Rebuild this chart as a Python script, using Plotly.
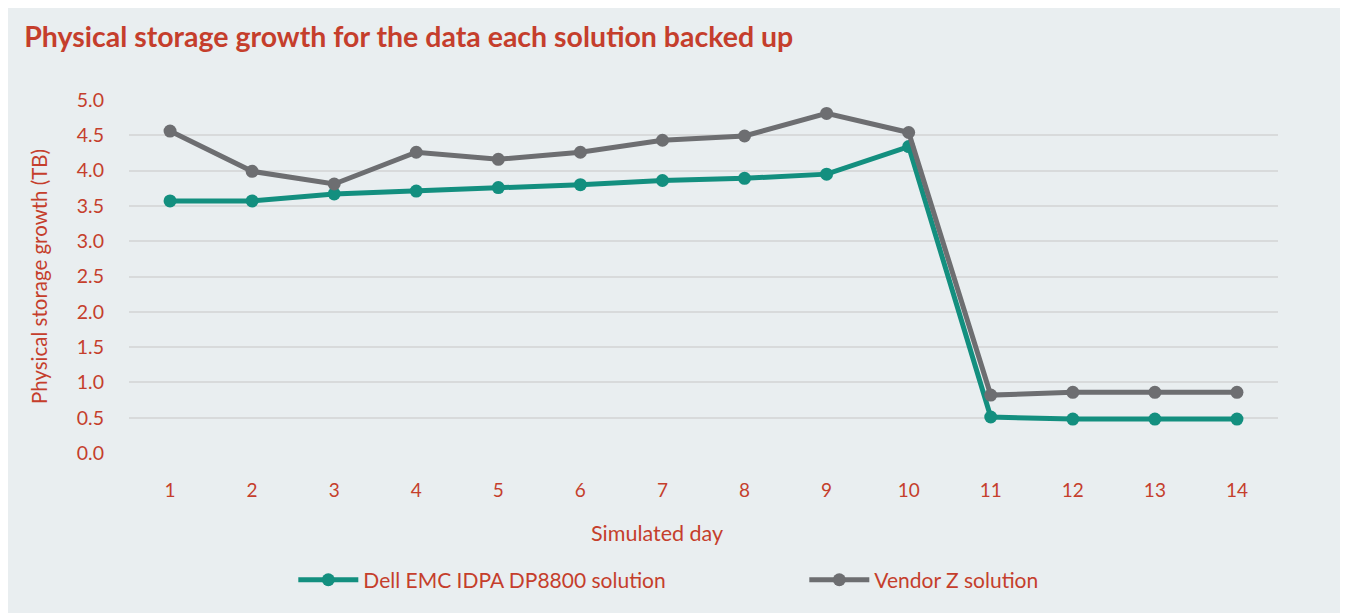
import plotly.graph_objects as go

days = [str(i) for i in range(1, 15)]
dell = [3.57, 3.57, 3.67, 3.71, 3.76, 3.80, 3.86, 3.89, 3.95, 4.34, 0.51, 0.48, 0.48, 0.48]
vendor = [4.56, 3.99, 3.81, 4.26, 4.16, 4.26, 4.43, 4.49, 4.81, 4.54, 0.82, 0.86, 0.86, 0.86]
yticks = [0, 0.5, 1.0, 1.5, 2.0, 2.5, 3.0, 3.5, 4.0, 4.5, 5.0]

RED = "#C53E2C"
GREEN = "#138F7F"
GRAY = "#6D6E71"
BG = "#E9EEF0"
FONT = "Lato"

fig = go.Figure()
fig.add_trace(go.Scatter(x=days, y=dell, name="Dell EMC IDPA DP8800 solution",
                         mode="lines+markers", line=dict(color=GREEN, width=5),
                         marker=dict(color=GREEN, size=13)))
fig.add_trace(go.Scatter(x=days, y=vendor, name="Vendor Z solution",
                         mode="lines+markers", line=dict(color=GRAY, width=5),
                         marker=dict(color=GRAY, size=13)))

fig.update_layout(
    width=1348, height=613,
    paper_bgcolor=BG, plot_bgcolor=BG,
    margin=dict(l=121, r=78, t=92, b=168),
    font=dict(family=FONT, color=RED, size=19),
    title=dict(text="<b>Physical storage growth for the data each solution backed up</b>",
               x=0.012, xanchor="left", y=0.953, yanchor="middle",
               font=dict(family=FONT, size=28.5, color=RED)),
    xaxis=dict(type="category", range=[-0.5, 13.5], showgrid=False, zeroline=False,
               showline=False, ticks="", ticklabelstandoff=24,
               tickfont=dict(size=19, color=RED)),
    yaxis=dict(range=[0, 5], tickvals=yticks, ticktext=[f"{v:.1f}" for v in yticks],
               showgrid=True, gridcolor="#D8DADB", gridwidth=2,
               zeroline=False, showline=False, ticks="", ticklabelstandoff=24,
               tickfont=dict(size=19.5, color=RED),
               title=dict(text="Physical storage growth (TB)", standoff=23,
                          font=dict(size=20.5, color=RED))),
    legend=dict(orientation="h", x=0.143, xanchor="left", y=-0.36, yanchor="middle",
                font=dict(size=21, color=RED), bgcolor="rgba(0,0,0,0)",
                itemwidth=60, entrywidth=436, entrywidthmode="pixels"),
    showlegend=True,
)
fig.add_annotation(text="Simulated day", xref="paper", yref="paper",
                   x=0.4595, y=-0.226, xanchor="center", yanchor="middle",
                   showarrow=False, font=dict(family=FONT, size=21.5, color=RED))

fig.write_html("out.html")
